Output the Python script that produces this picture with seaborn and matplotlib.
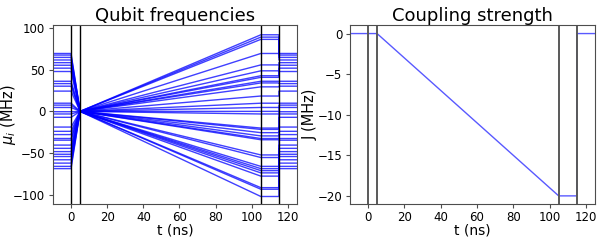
import matplotlib
matplotlib.use("Agg")

import numpy as np
import pandas as pd
import matplotlib.pyplot as plt
import seaborn as sns


# time knots of the schedule (ns)
T_KNOTS = [-10, 0, 5, 105, 115, 115, 125]
STAGE_LINES = [0, 5, 105, 115]

# initial qubit frequencies (MHz)
MU_INITIAL = [
    69.4, 67.5, 64.7, 61.6, 58.4, 55.3, 51.8, 47.8,
    36.1, 33.3, 30.2, 24.3, 9.8, 7.5, 4.7, -0.4,
    -3.1, -7.1, -18.8, -23.9, -27.8, -32.5, -34.5, -40.4,
    -44.3, -48.2, -51.4, -54.1, -58.0, -62.0, -65.9, -68.6,
]

# frequencies at the end of the ramp (MHz)
MU_FINAL = [
    91.8, 89.0, 86.3, 69.4, 55.7, 48.6, 42.7, 40.8,
    36.1, 34.1, 29.4, 18.4, 9.8, 4.7, 0.0, -3.1,
    -20.0, -21.6, -25.5, -29.4, -32.5, -34.0, -52.2, -55.3,
    -65.9, -68.6, -71.0, -73.7, -77.6, -91.4, -93.3, -102.0,
]

# coupling strength at each knot (MHz)
J_KNOTS = [0, 0, 0, -20, -20, 0, 0]


def build_frequency_frame():
    rows = []
    for i, (mu0, muf) in enumerate(zip(MU_INITIAL, MU_FINAL)):
        values = [mu0, mu0, 0.0, muf, muf, mu0, mu0]
        for order, (t, v) in enumerate(zip(T_KNOTS, values)):
            rows.append({"qubit": i, "order": order, "t": t, "mu": v})
    return pd.DataFrame(rows)


def main():
    sns.set_style("ticks")
    plt.rcParams["font.family"] = ["DejaVu Sans"]
    plt.rcParams["text.color"] = "black"
    plt.rcParams["axes.labelcolor"] = "black"
    plt.rcParams["axes.edgecolor"] = "0.3"
    plt.rcParams["xtick.color"] = "0.3"
    plt.rcParams["ytick.color"] = "0.3"
    plt.rcParams["xtick.labelcolor"] = "black"
    plt.rcParams["ytick.labelcolor"] = "black"
    plt.rcParams["xtick.labelsize"] = 8.5
    plt.rcParams["ytick.labelsize"] = 8.5
    plt.rcParams["xtick.major.size"] = 3
    plt.rcParams["ytick.major.size"] = 3
    plt.rcParams["xtick.major.pad"] = 2
    plt.rcParams["ytick.major.pad"] = 2.5

    freq_df = build_frequency_frame()
    coupling_df = pd.DataFrame({"t": T_KNOTS, "J": J_KNOTS})

    fig = plt.figure(figsize=(5.98, 2.4), dpi=100)
    ax1 = fig.add_axes([0.0886, 0.15, 0.408, 0.744])
    ax2 = fig.add_axes([0.585, 0.15, 0.41, 0.744])

    sns.lineplot(
        data=freq_df,
        x="t",
        y="mu",
        units="qubit",
        estimator=None,
        sort=False,
        color="#0000ff",
        alpha=0.75,
        linewidth=1,
        ax=ax1,
    )
    for t in STAGE_LINES:
        ax1.axvline(t, color="k", linewidth=1)

    ax1.set_xlim(-10, 125)
    ax1.set_ylim(-111, 103)
    ax1.set_xticks(np.arange(0, 121, 20))
    ax1.set_yticks([-100, -50, 0, 50, 100])
    ax1.set_title("Qubit frequencies", fontsize=13, pad=3)
    ax1.set_xlabel("t (ns)", fontsize=10)
    ax1.set_ylabel(r"$\mu_i$ (MHz)", fontsize=10.5)
    ax1.xaxis.set_label_coords(0.5, -0.107)
    ax1.yaxis.set_label_coords(-0.145, 0.5)

    sns.lineplot(
        data=coupling_df,
        x="t",
        y="J",
        estimator=None,
        sort=False,
        color="#0000ff",
        alpha=0.65,
        linewidth=1,
        ax=ax2,
    )
    for t in STAGE_LINES:
        ax2.axvline(t, color="0.35", linewidth=1.4)

    ax2.set_xlim(-10, 125)
    ax2.set_ylim(-21, 1)
    ax2.set_xticks(np.arange(0, 121, 20))
    ax2.set_yticks([-20, -15, -10, -5, 0])
    ax2.set_title("Coupling strength", fontsize=13, pad=3)
    ax2.set_xlabel("t (ns)", fontsize=10)
    ax2.set_ylabel("J (MHz)", fontsize=10.5)
    ax2.xaxis.set_label_coords(0.5, -0.107)
    ax2.yaxis.set_label_coords(-0.131, 0.5)

    fig.savefig("out.png", dpi=100)
    plt.close(fig)


if __name__ == "__main__":
    main()
